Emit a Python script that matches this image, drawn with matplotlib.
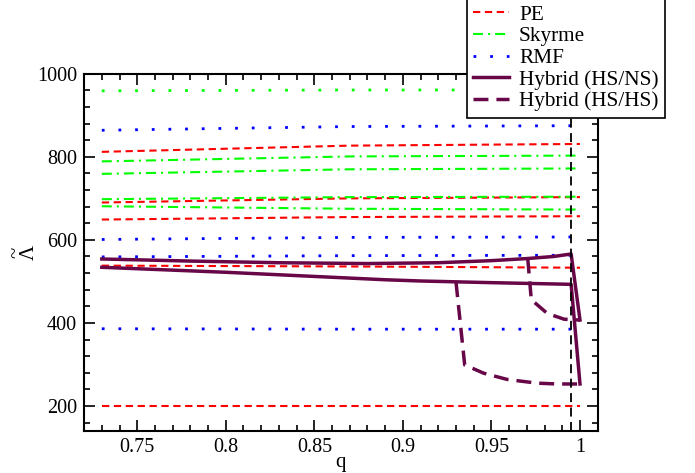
import numpy as np
import matplotlib
matplotlib.use("Agg")
import matplotlib.pyplot as plt
from matplotlib.ticker import MultipleLocator, FormatStrFormatter

plt.rcParams['font.family'] = ['Liberation Serif', 'DejaVu Serif']

# mass ratio grid for the nucleonic curves
q = [0.73, 0.87, 1.0]

pe_curves = [[812, 827, 831], [690, 700, 703], [649, 655, 657],
             [538, 536, 533], [200, 200, 200]]
skyrme_curves = [[789, 801, 803], [759, 770, 772], [698, 703, 704],
                 [681, 675, 673]]
skyrme_dotted = [959, 961, 961]
rmf_curves = [[864, 873, 875], [601, 606, 607], [559, 562, 563],
              [386, 385, 385]]

# hybrid HS/NS
hsns_q1 = [0.73, 0.78, 0.83, 0.88, 0.92, 0.95, 0.97, 0.985, 0.995, 1.0]
hsns_l1 = [554, 549, 545, 543, 545, 550, 555, 560, 566, 407]
hsns_q2 = [0.73, 0.80, 0.85, 0.89, 0.91, 0.95, 0.995, 1.0]
hsns_l2 = [534, 522, 512, 504, 501, 497, 493, 253]

# hybrid HS/HS
hshs_q1 = [0.9705, 0.9725, 0.9815, 0.991, 1.0]
hshs_l1 = [555, 456, 423, 409, 407]
hshs_q2 = [0.930, 0.9349, 0.9456, 0.9588, 0.9758, 0.987, 1.0]
hshs_l2 = [498, 299, 279, 264, 255, 253, 253]

q_cut = 0.995

maroon = '#670748'
pe_ls = (0, (3.5, 2.2))
sk_ls = (0, (4.8, 2.4, 1, 2.4))
dot_ls = (0, (1, 5))
hyb_dash = (0, (4.3, 2.3))

fig = plt.figure(figsize=(6.95, 4.73), dpi=100)
ax = fig.add_axes([0.121, 0.089, 0.739, 0.755])

ax.plot(q, skyrme_dotted, color='#00ff00', ls=dot_ls, lw=2.0,
        dash_capstyle='butt')
for i, c in enumerate(pe_curves):
    ax.plot(q, c, color='red', ls=pe_ls, lw=1.5, label='PE' if i == 0 else None)
for i, c in enumerate(skyrme_curves):
    ax.plot(q, c, color='#00ff00', ls=sk_ls, lw=1.5,
            label='Skyrme' if i == 0 else None)
for i, c in enumerate(rmf_curves):
    ax.plot(q, c, color='blue', ls=dot_ls, lw=2.0, dash_capstyle='butt',
            label='RMF' if i == 0 else None)

ax.plot(hsns_q1, hsns_l1, color=maroon, lw=2.5, label='Hybrid (HS/NS)')
ax.plot(hsns_q2, hsns_l2, color=maroon, lw=2.5)
ax.plot(hshs_q1, hshs_l1, color=maroon, lw=2.5, ls=hyb_dash,
        label='Hybrid (HS/HS)')
ax.plot(hshs_q2, hshs_l2, color=maroon, lw=2.5, ls=hyb_dash)

ax.axvline(q_cut, color='black', lw=1.3, ls=(0, (5, 3)))

ax.set_xlim(0.72, 1.01)
ax.set_ylim(140, 1000)
ax.xaxis.set_major_locator(MultipleLocator(0.05))
ax.xaxis.set_minor_locator(MultipleLocator(0.01))
ax.yaxis.set_major_locator(MultipleLocator(200))
ax.yaxis.set_minor_locator(MultipleLocator(40))
ax.xaxis.set_major_formatter(FormatStrFormatter('%g'))
ax.tick_params(which='both', direction='in', top=True, right=True,
               labelsize=14.5, width=1.2)
ax.tick_params(which='major', length=8, pad=5)
ax.tick_params(which='minor', length=4.3)
for s in ax.spines.values():
    s.set_linewidth(1.5)

ax.set_xlabel('q', fontsize=15, labelpad=-3)
# lambda-tilde label, rotated like the original (tilde on its own line)
ax.set_ylabel('~\nΛ', fontsize=15, rotation=90, linespacing=0.6,
              ha='center', va='center')
ax.yaxis.set_label_coords(-0.12, 0.5)

leg = fig.legend(loc='upper right', bbox_to_anchor=(665 / 695, 1.003),
                 borderaxespad=0, fontsize=15.3, frameon=True, fancybox=False,
                 edgecolor='black', framealpha=1, handlelength=1.7,
                 handletextpad=0.47, labelspacing=0.08, borderpad=0.3)
leg.get_frame().set_linewidth(1.2)

fig.savefig('out.png', dpi=100)
